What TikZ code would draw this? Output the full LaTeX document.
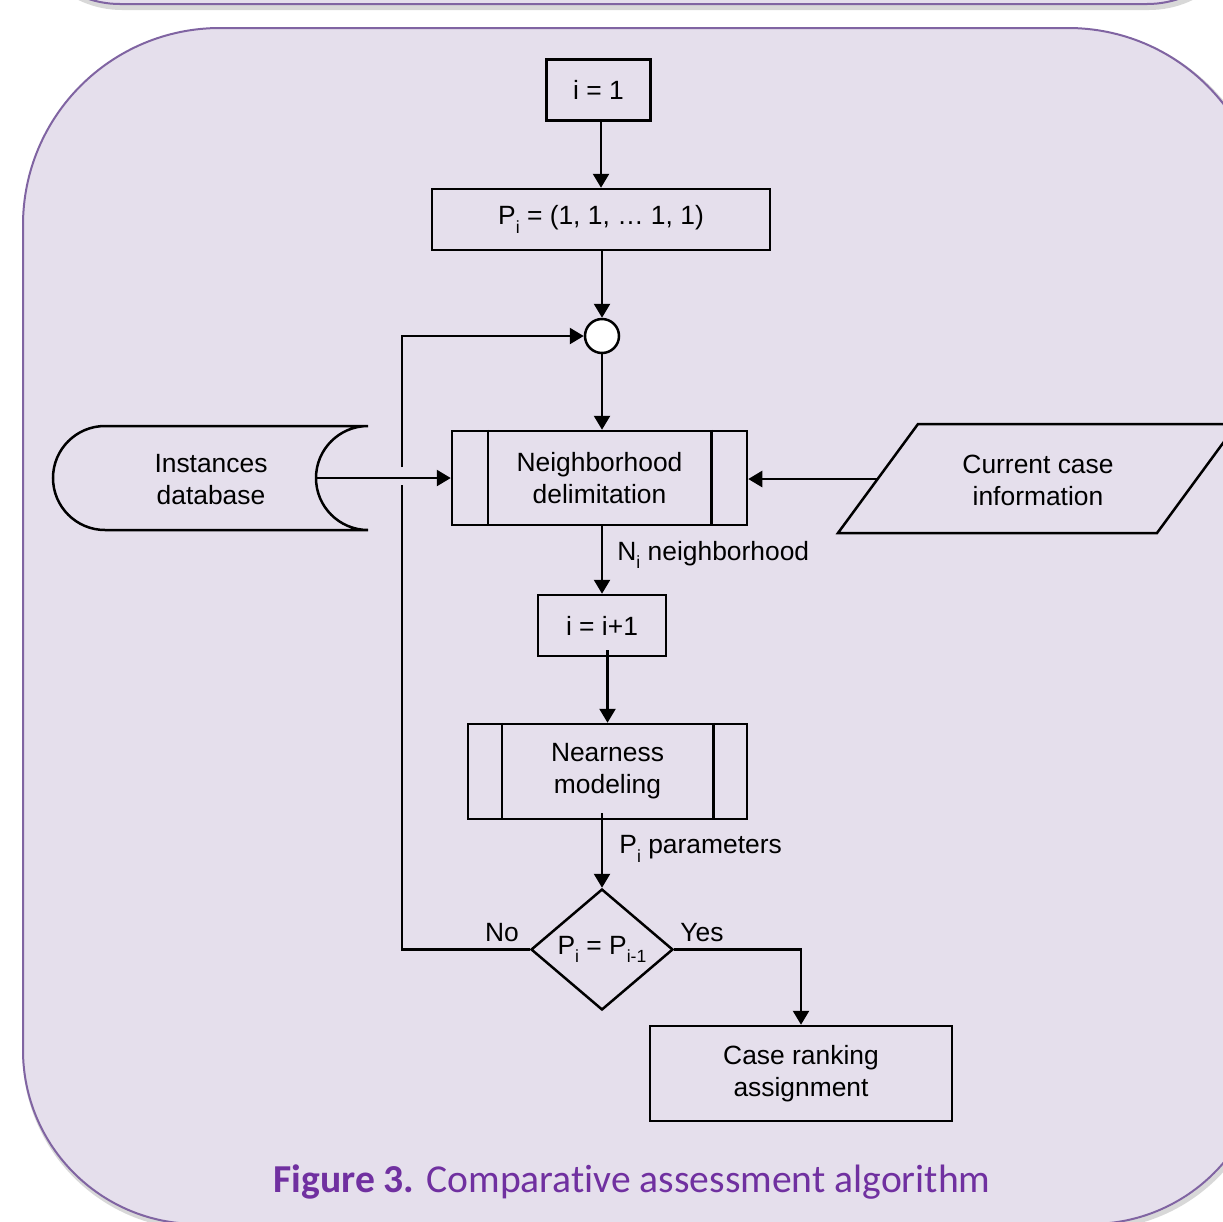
\documentclass[tikz,border=0pt]{standalone}
\usepackage{fontspec}
\setmainfont{Liberation Sans}
\newfontfamily\capfont[Ligatures=NoCommon]{Carlito}
\usetikzlibrary{arrows.meta,shapes.geometric}
\definecolor{panelfill}{HTML}{E5DFEC}
\definecolor{panelline}{HTML}{8064A2}
\definecolor{capcol}{HTML}{7030A0}
\newcommand\lsub[1]{\raisebox{-0.6ex}{\fontsize{8.8}{9}\selectfont #1}}
\begin{document}
\begin{tikzpicture}[x=0.5pt,y=-0.5pt,
  every node/.style={font=\fontsize{13.2}{16}\selectfont},
  line/.style={line width=1.25pt,draw=black},
  box/.style={line,rectangle,inner sep=0pt,align=center},
  arr/.style={line width=1.25pt,-{Triangle[length=7pt,width=8pt]}},
  lbl/.style={inner sep=0pt}]
\useasboundingbox (0,0) rectangle (1223,1222);
\clip (0,0) rectangle (1223,1222);
\fill[white] (0,0) rectangle (1223,1222);
% top panel
\fill[black!30,opacity=0.5,rounded corners=50pt] (22,-300) rectangle (1249,10);
\draw[fill=panelfill,draw=panelline,line width=1pt,rounded corners=50pt] (20,-300) rectangle (1247,4);
% main panel shadow
\draw[black!25,line width=2.5pt,opacity=0.6,shift={(2,3)}]
  (220,28) -- (1068,28) .. controls (1176.8,28) and (1265,116.2) .. (1265,225)
  -- (1265,1050) .. controls (1265,1146.1) and (1187.1,1224) .. (1091,1224)
  -- (197,1224) .. controls (100.9,1224) and (23,1146.1) .. (23,1050)
  -- (23,225) .. controls (23,116.2) and (111.2,28) .. (220,28) -- cycle;
% main panel
\draw[fill=panelfill,draw=panelline,line width=1pt]
  (220,28) -- (1068,28) .. controls (1176.8,28) and (1265,116.2) .. (1265,225)
  -- (1265,1050) .. controls (1265,1146.1) and (1187.1,1224) .. (1091,1224)
  -- (197,1224) .. controls (100.9,1224) and (23,1146.1) .. (23,1050)
  -- (23,225) .. controls (23,116.2) and (111.2,28) .. (220,28) -- cycle;

% nodes
\node[box,minimum width=52pt,minimum height=30.5pt] (i1) at (598.5,90) {i = 1};
\node[box,minimum width=169pt,minimum height=30.5pt] (P) at (601,219.5) {\raisebox{-1.5pt}{P\lsub{i} = (1, 1, \dots\ 1, 1)}};
\node[line,circle,fill=white,inner sep=0pt,minimum size=17pt] (circ) at (602,336) {};
\node[box,minimum width=147.5pt,minimum height=47pt] (nd) at (599.5,478) {Neighborhood\\delimitation};
\draw[line] ([xshift=18.5pt]nd.north west) -- ([xshift=18.5pt]nd.south west);
\draw[line] ([xshift=-18.5pt]nd.north east) -- ([xshift=-18.5pt]nd.south east);
\node[box,minimum width=64pt,minimum height=30.5pt] (ii) at (602,625.5) {i = i+1};
\node[box,minimum width=139.5pt,minimum height=47.5pt] (near) at (607.5,771.5) {Nearness\\modeling};
\draw[line] ([xshift=17.5pt]near.north west) -- ([xshift=17.5pt]near.south west);
\draw[line] ([xshift=-17.5pt]near.north east) -- ([xshift=-17.5pt]near.south east);
\node[line,diamond,inner sep=0pt,minimum width=71pt,minimum height=60.5pt] (dia) at (602,949.5) {P\lsub{i} = P\lsub{i-1}};
\node[box,minimum width=151pt,minimum height=47.5pt] (case) at (801,1073.5) {Case ranking\\assignment};

% instances database (stored data)
\draw[line] (368,426) -- (105,426)
  .. controls (76.3,426) and (53,449.3) .. (53,478)
  .. controls (53,506.7) and (76.3,530) .. (105,530) -- (368,530)
  .. controls (339.3,530) and (316,506.7) .. (316,478)
  .. controls (316,449.3) and (339.3,426) .. (368,426);
\coordinate (instR) at (316,478);
\node[align=center,inner sep=0pt] (inst) at (211,480) {Instances\\database};

% current case information (parallelogram)
\draw[line] (918,424) -- (1237,424) -- (1157,533) -- (838,533) -- cycle;
\coordinate (curL) at (878,479);
\node[align=center,inner sep=0pt] (cur) at (1038,480) {Current case\\information};

% connectors
\draw[arr] (i1.south -| P.north) -- (P.north);
\draw[arr] (P.south -| circ.north) -- (circ.north);
\draw[arr] (circ.south) -- (circ.south |- nd.north);
\draw[arr] (instR) -- (instR -| nd.west);
\draw[arr] (curL) -- (curL -| nd.east);
\draw[arr] (nd.south -| ii.north) -- (ii.north);
\draw[arr] ([yshift=3.5pt]ii.south -| near.north) -- (near.north);
\draw[arr] ([yshift=3.5pt]near.south -| dia.north) -- (dia.north);
\coordinate (gapB) at (402,485);
\coordinate (gapT) at (402,467);
\draw[line] (dia.west) -- (dia.west -| gapB) -- (gapB);
\draw[arr] (gapT) -- (gapT |- circ.west) -- (circ.west);
\draw[arr] (dia.east) -- (dia.east -| case.north) -- (case.north);

% labels
\node[lbl,anchor=west] (nlab) at (617,555) {N\lsub{i} neighborhood};
\node[lbl,anchor=west] (plab) at (619,849) {P\lsub{i} parameters};
\node[lbl] (no) at (502,933) {No};
\node[lbl] (yes) at (702,933) {Yes};

% caption
\node[font=\capfont\fontsize{19.8}{23}\selectfont,text=capcol,inner sep=0pt] (cap) at (632,1182) {\textbf{Figure 3.} Comparative assessment algorithm};
\end{tikzpicture}
\end{document}
